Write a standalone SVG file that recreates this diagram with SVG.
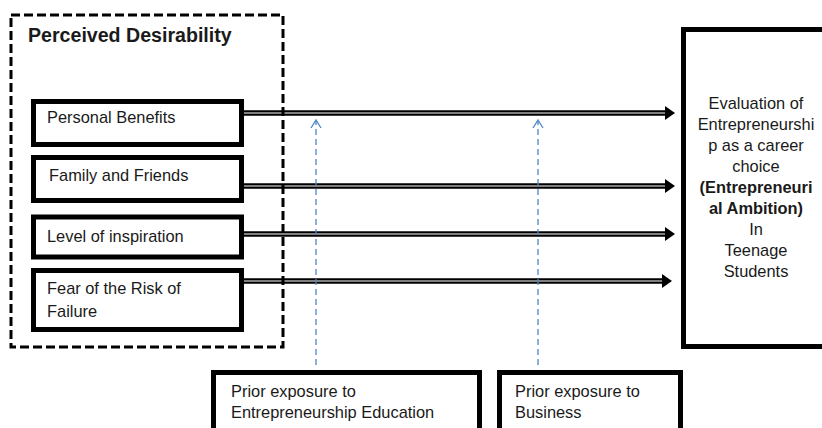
<svg xmlns="http://www.w3.org/2000/svg" width="822" height="428" viewBox="0 0 822 428">
<style>
  .box { fill: #fff; stroke: #000; stroke-width: 5; }
  .grp { fill: none; stroke: #000; stroke-width: 3; stroke-dasharray: 9 4; }
  .t { font-family: "Liberation Sans", Arial, sans-serif; font-size: 16.4px; fill: #1a1a1a; }
  .b { font-weight: bold; }
  .c { text-anchor: middle; }
  .outer { stroke: #000; stroke-width: 5.5; fill: none; }
  .inner { stroke: #aaa; stroke-width: 1.5; fill: none; }
  .head { fill: #000; }
  .blue { stroke: #4f86c6; stroke-width: 1.3; fill: none; stroke-dasharray: 6 4; }
  .bhead { stroke: #4f86c6; stroke-width: 1.3; fill: none; }
</style>
<rect width="822" height="428" fill="#fff"/>

<g id="connectors">
  <g id="arrow-personal">
    <line class="outer" x1="243" y1="113" x2="667" y2="113"/>
    <line class="inner" x1="243" y1="113" x2="666" y2="113"/>
    <polygon class="head" points="665,106 675,113 665,120"/>
  </g>
  <g id="arrow-family">
    <line class="outer" x1="243" y1="186" x2="667" y2="186"/>
    <line class="inner" x1="243" y1="186" x2="666" y2="186"/>
    <polygon class="head" points="665,179 675,186 665,193"/>
  </g>
  <g id="arrow-inspiration">
    <line class="outer" x1="243" y1="234" x2="667" y2="234"/>
    <line class="inner" x1="243" y1="234" x2="666" y2="234"/>
    <polygon class="head" points="665,227 675,234 665,241"/>
  </g>
  <g id="arrow-fear">
    <line class="outer" x1="243" y1="281" x2="664" y2="281"/>
    <line class="inner" x1="243" y1="281" x2="663" y2="281"/>
    <polygon class="head" points="662,274 672,281 662,288"/>
  </g>
  <g id="arrow-education">
    <line class="blue" x1="316" y1="365" x2="316" y2="121"/>
    <polyline class="bhead" points="311,128 316,120 321,128"/>
  </g>
  <g id="arrow-business">
    <line class="blue" x1="538" y1="365" x2="538" y2="121"/>
    <polyline class="bhead" points="533,128 538,120 543,128"/>
  </g>
</g>

<g id="perceived-desirability">
  <rect class="grp" x="11" y="15" width="272" height="332"/>
  <text class="t b" x="28" y="42" style="font-size:19.6px">Perceived Desirability</text>
</g>

<g id="personal-benefits">
  <rect class="box" x="33.5" y="101.5" width="208" height="43"/>
  <text class="t" x="47" y="123">Personal Benefits</text>
</g>
<g id="family-friends">
  <rect class="box" x="33.5" y="157.5" width="208" height="43"/>
  <text class="t" x="49" y="181">Family and Friends</text>
</g>
<g id="level-inspiration">
  <rect class="box" x="33.5" y="217" width="208" height="40"/>
  <text class="t" x="47" y="242">Level of inspiration</text>
</g>
<g id="fear-risk">
  <rect class="box" x="33.5" y="270.5" width="208" height="59"/>
  <text class="t" x="47" y="294">Fear of the Risk of</text>
  <text class="t" x="47" y="317">Failure</text>
</g>

<g id="evaluation">
  <rect class="box" x="683.5" y="29.5" width="170" height="317"/>
  <text class="t c" x="756" y="109">Evaluation of</text>
  <text class="t c" x="756" y="130">Entrepreneurshi</text>
  <text class="t c" x="756" y="151">p as a career</text>
  <text class="t c" x="756" y="172">choice</text>
  <text class="t c b" x="756" y="193">(Entrepreneuri</text>
  <text class="t c b" x="756" y="214">al Ambition)</text>
  <text class="t c" x="756" y="235">In</text>
  <text class="t c" x="756" y="256">Teenage</text>
  <text class="t c" x="756" y="277">Students</text>
</g>

<g id="prior-education">
  <rect class="box" x="213.5" y="372.5" width="266" height="70"/>
  <text class="t" x="231" y="397">Prior exposure to</text>
  <text class="t" x="231" y="418">Entrepreneurship Education</text>
</g>
<g id="prior-business">
  <rect class="box" x="499.5" y="372.5" width="181" height="70"/>
  <text class="t" x="515" y="397">Prior exposure to</text>
  <text class="t" x="515" y="418">Business</text>
</g>
</svg>
